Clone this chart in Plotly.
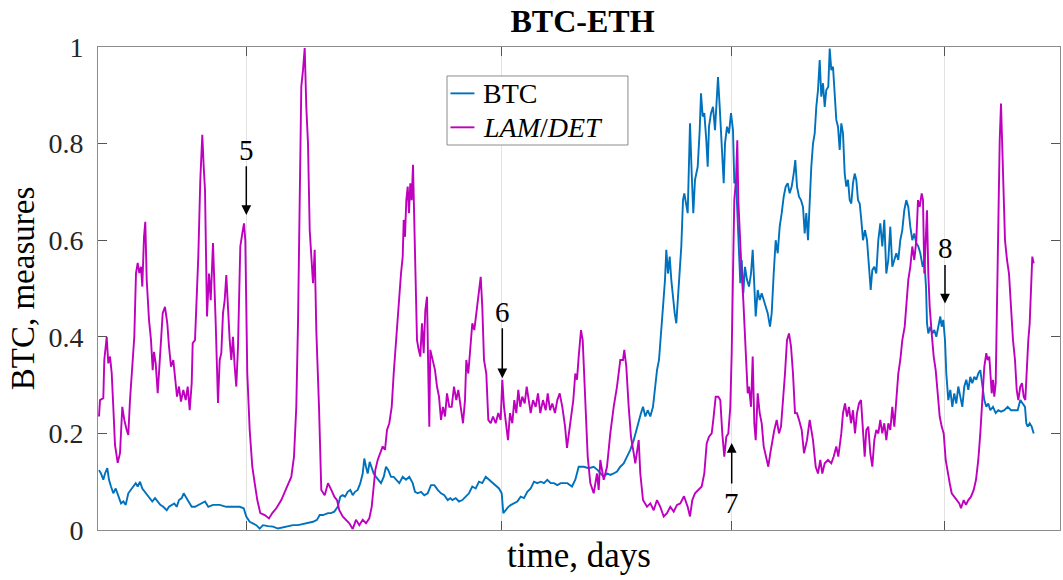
import plotly.graph_objects as go

# ---- data: time in days, normalised measures ----
btc_days = [
    1, 3, 5.3, 7, 9.3, 11, 13, 15.3, 17.7, 20.3,
    23, 25.3, 27.7, 30.3, 33, 35.3, 37.7, 39.7, 42, 44.3,
    47, 49.7, 52, 54.3, 57, 59.7, 62.3, 65.3, 68.7, 71,
    73.7, 76.3, 78.7, 81, 83.7, 85.7, 87.7, 90.3, 93.7, 97,
    100.3, 103.7, 107, 110.3, 115, 121.7, 128.3, 135, 141.7, 145.7,
    148.3, 151.7, 155, 158.3, 161.7, 165, 170, 175, 180, 185,
    190, 195, 200, 205, 210, 215, 219, 221.7, 225, 230,
    233, 236.3, 239.7, 242.3, 244.7, 247, 249.7, 252.3, 254.7, 257,
    259.7, 262.3, 264.7, 266.3, 268, 269.7, 271.7, 273.7, 275.7, 278,
    280.3, 283, 285.7, 288, 290.3, 293, 295.7, 298, 301.3, 304.7,
    308, 311.3, 314.7, 317, 319.7, 323, 326.3, 329.7, 333, 336.3,
    339.7, 343, 346.3, 349.7, 352.3, 354.3, 357.7, 361, 364.3, 367.7,
    371, 374.3, 377.7, 381, 384.3, 387.7, 391, 394.3, 397.7, 401,
    403.7, 405.3, 407.7, 410.3, 413, 416, 419.3, 422.7, 426, 429.3,
    432.7, 436, 439.3, 442.7, 446, 449.3, 452.7, 456, 459.3, 462.7,
    466, 469.3, 474, 477.3, 480.7, 485.7, 490.7, 495.7, 499.7, 502.3,
    505.7, 509, 512.3, 515.7, 519, 522.3, 525.7, 529, 532.3, 535.7,
    538.3, 540.7, 543, 545, 547.3, 549.7, 552.3, 555, 557, 559,
    561, 563, 565, 567, 568.3, 570, 571.7, 573.3, 575, 576.7,
    578.3, 580, 581.7, 583.3, 585, 586.3, 589.7, 592, 593.7, 595.3,
    597, 599.7, 601.7, 603, 604.7, 606.3, 608.3, 609.7, 611, 613,
    615, 617, 618.7, 620, 621.7, 623.7, 625.7, 627, 629, 631,
    633, 635, 636.3, 638, 639.7, 641, 642.3, 643.7, 645.3, 647,
    649, 651, 653, 654.7, 656.3, 657.7, 659.7, 661.7, 663.7, 665.7,
    667.7, 669.7, 672, 673.7, 675.7, 677.7, 679.7, 681.7, 683.7, 685.7,
    687.7, 689.7, 691.7, 693.7, 695.7, 697.3, 699, 701, 703, 705,
    706.7, 708.3, 710, 711.7, 713.3, 715, 716.7, 718.3, 720, 721.7,
    723.3, 725, 726.7, 728.3, 730.3, 731.7, 733.3, 735, 736.7, 738.3,
    740, 741.7, 743.3, 745, 746.7, 748.3, 750, 751.7, 753.3, 755,
    756.7, 758.3, 760, 761.7, 763.3, 765, 767, 769, 771, 772.7,
    774.3, 776.3, 778.3, 780.3, 782.3, 784.3, 786.3, 788.3, 790.3, 792.3,
    794.3, 796.3, 798.3, 800.3, 802.3, 804.3, 806.3, 808.3, 810.3, 812.3,
    814.3, 816.3, 818.3, 820.3, 822.3, 824.7, 826.3, 828, 829, 830.3,
    832.3, 834.3, 836.3, 838.3, 840.3, 842.3, 843.7, 845.3, 847, 848.3,
    850.3, 852.3, 854.3, 856.3, 858.3, 860.3, 862.3, 864.3, 866.3, 868.3,
    870.3, 872.3, 874.3, 876.3, 878.3, 880.3, 882.3, 884.3, 886.3, 888.3,
    890.3, 892.3, 895, 897.7, 900.3, 903, 906.3, 909.7, 913, 916.3,
    919.7, 922.3, 925, 927, 928.3, 929.7, 931.7, 933.7, 935.7,
]
btc_vals = [
    .124, .117, .104, .117, .128, .104, .090, .076, .086, .069,
    .055, .059, .052, .076, .083, .090, .097, .090, .100, .086,
    .079, .072, .066, .059, .066, .059, .052, .048, .041, .048,
    .052, .055, .048, .062, .066, .076, .069, .059, .048, .048,
    .052, .055, .059, .048, .052, .052, .048, .048, .048, .045,
    .028, .017, .014, .010, .003, .010, .008, .007, .003, .005,
    .008, .010, .010, .012, .014, .017, .021, .031, .031, .035,
    .035, .038, .048, .069, .072, .069, .079, .083, .072, .079,
    .083, .097, .117, .148, .131, .117, .141, .131, .117, .110,
    .104, .097, .110, .131, .124, .110, .110, .104, .097, .110,
    .104, .110, .097, .079, .076, .079, .072, .076, .093, .093,
    .083, .076, .072, .062, .066, .062, .066, .059, .062, .069,
    .076, .090, .086, .100, .097, .110, .104, .097, .090, .086,
    .076, .035, .041, .048, .052, .055, .059, .069, .066, .079,
    .086, .100, .097, .100, .097, .104, .097, .097, .093, .097,
    .097, .097, .090, .104, .131, .131, .128, .131, .124, .117,
    .110, .117, .114, .117, .121, .131, .138, .152, .166, .186,
    .207, .228, .242, .255, .235, .248, .235, .255, .290, .331,
    .352, .400, .462, .518, .580, .531, .566, .518, .476, .449,
    .428, .490, .531, .587, .683, .697, .656, .842, .738, .656,
    .725, .752, .828, .904, .856, .863, .807, .752, .835, .863,
    .876, .828, .890, .938, .876, .787, .718, .800, .835, .821,
    .863, .828, .718, .725, .635, .545, .511, .559, .490, .545,
    .518, .504, .531, .580, .518, .442, .497, .476, .490, .476,
    .462, .449, .421, .449, .531, .600, .573, .628, .656, .690,
    .711, .718, .697, .711, .738, .766, .711, .690, .683, .669,
    .614, .656, .600, .697, .752, .800, .821, .876, .911, .973,
    .897, .925, .876, .911, .918, .997, .952, .959, .897, .849,
    .835, .787, .842, .821, .738, .711, .725, .683, .676, .718,
    .738, .725, .683, .676, .642, .600, .621, .600, .545, .497,
    .538, .545, .531, .600, .635, .587, .642, .531, .559, .628,
    .545, .559, .573, .559, .600, .621, .662, .683, .669, .628,
    .600, .614, .594, .587, .573, .545, .559, .504, .428, .407,
    .421, .407, .414, .400, .421, .442, .421, .435, .393, .324,
    .269, .290, .255, .283, .262, .297, .276, .255, .297, .311,
    .290, .317, .304, .317, .311, .324, .331, .297, .269, .255,
    .262, .248, .255, .242, .248, .245, .248, .255, .248, .248,
    .248, .269, .262, .255, .221, .214, .221, .214, .200,
]

lam_days = [
    1, 2, 5.3, 6.3, 8.7, 10.3, 12, 13.7, 15.3, 17,
    19.7, 22, 24.3, 26.3, 28.7, 30.3, 32, 34.3, 36.3, 38,
    39.7, 41.3, 43, 44.3, 46, 47.3, 48.7, 51, 53, 54.7,
    56, 57.7, 59.7, 61, 63, 64.7, 67, 69.3, 71, 73,
    75.3, 77, 79, 81, 83, 85.3, 87.7, 89.7, 91.7, 93.7,
    94.7, 97, 98.7, 100.3, 102.3, 104.3, 105.7, 107, 109, 111,
    112.7, 115, 117.7, 120, 121.7, 123.3, 125, 126.7, 128.3, 130,
    131.7, 133.3, 135, 136.7, 138.3, 140, 142.3, 144.3, 146, 147.3,
    149.3, 151.7, 154.3, 156.7, 159.3, 162.3, 166.7, 171, 174.3, 178.3,
    183.3, 188.3, 193.3, 196, 198.3, 200, 201.7, 203.3, 205, 206.7,
    208.3, 210, 211.7, 214, 215, 216.7, 218.3, 221, 223.3, 226.7,
    230, 233.3, 236.3, 239, 241.3, 244.7, 248, 251.3, 254.7, 258,
    261.3, 264.7, 268, 271.3, 273.7, 275.7, 277.3, 279.7, 282.3, 284.7,
    287, 289, 291.3, 293.7, 295.7, 298, 299.7, 301.3, 303, 304.7,
    305.7, 307, 308.3, 309.7, 311, 312.3, 313.7, 315, 316.3, 317.7,
    319, 320.7, 322.3, 324, 325.7, 327.3, 329, 330.3, 331.3, 332.3,
    334.7, 337, 339, 341, 343, 345, 347, 349, 351.3, 353.7,
    356, 358.3, 360.3, 362.7, 365, 367, 368.3, 370.3, 372.3, 374.3,
    376.3, 378.3, 380.3, 382.7, 384.3, 386, 388.3, 390.3, 392.7, 395,
    397.7, 400.3, 402.7, 404.3, 406, 407.7, 410, 412, 414.3, 416.3,
    418.3, 420.3, 422.3, 424.3, 426.7, 428.7, 430.3, 432.7, 435, 437.7,
    440, 442.3, 445, 447.7, 449.7, 452, 454.3, 457, 459.3, 461.7,
    464.3, 467, 469, 472.3, 475.3, 477.3, 479, 480.7, 483, 484.7,
    486.3, 488.3, 489.7, 492.3, 495.7, 499, 500.7, 502.3, 505.7, 509,
    512.3, 515.7, 519, 522.3, 525, 526.3, 528.3, 530.7, 533, 535.7,
    537.3, 540.7, 542.3, 545, 549, 552.3, 555.7, 559, 562.3, 565.7,
    569, 572.3, 575.7, 579, 582.3, 586, 589.7, 592, 594.3, 597,
    600.3, 603.7, 606.3, 608.7, 611, 613.7, 615.3, 617.7, 620.3, 622.3,
    624.3, 626.3, 628.3, 630.3, 632.3, 633.7, 635, 636.3, 638, 639.3,
    640.3, 642, 643.7, 645.3, 647, 648.3, 649.7, 651, 653, 654.7,
    656.3, 657.7, 659.7, 661.7, 663.7, 665.7, 668, 670.3, 672.3, 674.3,
    676.3, 678.7, 681, 683, 685.3, 687, 689, 691, 693, 695,
    697, 699, 701, 703.7, 706, 709, 711.7, 713.3, 715, 717.7,
    720, 722.3, 724.3, 726.7, 730, 733.3, 735.7, 738.3, 740.3, 743.3,
    745, 747, 749, 751, 753, 755, 757, 759, 761, 763,
    765, 766.7, 768.3, 770.3, 772.3, 774.3, 776.3, 778.3, 780.3, 782.3,
    784.3, 786.3, 788.3, 790.3, 792.3, 794.3, 796.3, 798.3, 800.3, 802.3,
    804.3, 806.7, 808.3, 810.3, 812.3, 814.3, 816.3, 818.3, 820, 821.7,
    823.7, 825, 826.3, 828, 829, 830.3, 831.7, 833.7, 835.7, 837.7,
    839.7, 841.7, 843.7, 845.7, 847.7, 849.7, 851.7, 853.7, 856.3, 859,
    861.3, 863, 865.7, 868, 870.3, 873, 875.7, 878, 880.3, 882.3,
    884.3, 886.3, 888.3, 889.7, 891.3, 892.3, 893.7, 895, 896.3, 897.7,
    899, 900.3, 901.7, 903, 904, 905.3, 907, 909, 911, 913,
    915, 917, 918.7, 920.3, 922.3, 924, 925.7, 927.3, 929, 930.3,
    931.7, 933, 934.3, 935.7,
]
lam_vals = [
    .235, .269, .273, .352, .400, .345, .359, .325, .255, .176,
    .139, .159, .255, .228, .207, .197, .269, .352, .400, .532,
    .553, .532, .545, .504, .607, .638, .518, .435, .393, .331,
    .369, .345, .283, .325, .408, .449, .462, .428, .380, .338,
    .352, .317, .276, .297, .266, .290, .269, .297, .248, .304,
    .387, .393, .490, .566, .725, .818, .752, .704, .442, .531,
    .476, .594, .428, .263, .352, .366, .449, .476, .528, .449,
    .393, .352, .400, .338, .297, .380, .587, .614, .635, .600,
    .324, .207, .131, .097, .062, .035, .031, .024, .035, .045,
    .062, .086, .110, .152, .255, .428, .669, .918, .952, .998,
    .876, .800, .621, .531, .511, .580, .414, .255, .083, .072,
    .097, .083, .069, .062, .041, .028, .021, .014, .002, .021,
    .010, .021, .014, .024, .048, .083, .124, .145, .159, .173,
    .166, .207, .221, .255, .324, .393, .428, .490, .531, .566,
    .642, .607, .683, .711, .656, .718, .683, .756, .628, .483,
    .393, .373, .359, .428, .366, .455, .483, .324, .214, .373,
    .352, .331, .297, .276, .228, .255, .235, .283, .255, .255,
    .297, .269, .290, .255, .221, .269, .352, .324, .373, .428,
    .414, .449, .476, .524, .462, .352, .324, .228, .221, .235,
    .221, .242, .228, .311, .255, .221, .186, .242, .221, .269,
    .242, .290, .255, .276, .262, .297, .276, .242, .269, .255,
    .283, .242, .269, .248, .283, .248, .262, .242, .269, .283,
    .255, .215, .170, .221, .269, .324, .311, .359, .414, .393,
    .324, .235, .152, .097, .076, .117, .083, .145, .104, .131,
    .200, .255, .297, .352, .352, .373, .338, .255, .193, .159,
    .138, .186, .117, .062, .048, .055, .041, .062, .048, .028,
    .035, .048, .038, .052, .055, .070, .048, .028, .062, .076,
    .083, .090, .117, .179, .193, .200, .228, .276, .276, .269,
    .200, .152, .193, .200, .255, .366, .531, .683, .725, .807,
    .683, .587, .531, .476, .393, .352, .283, .297, .255, .359,
    .221, .186, .283, .242, .221, .173, .152, .131, .159, .186,
    .207, .228, .200, .214, .269, .324, .393, .407, .380, .324,
    .242, .242, .228, .207, .159, .186, .228, .207, .186, .131,
    .117, .145, .117, .138, .145, .138, .152, .173, .152, .200,
    .242, .262, .235, .255, .221, .248, .200, .242, .262, .269,
    .214, .152, .207, .214, .159, .131, .186, .207, .200, .228,
    .200, .221, .186, .221, .207, .255, .214, .276, .324, .352,
    .393, .421, .469, .518, .545, .587, .559, .600, .683, .669,
    .697, .683, .531, .628, .662, .531, .462, .407, .359, .331,
    .283, .235, .214, .200, .145, .117, .097, .076, .069, .062,
    .055, .045, .062, .052, .062, .069, .083, .104, .145, .200,
    .283, .338, .366, .352, .359, .324, .283, .311, .276, .304,
    .476, .669, .807, .883, .807, .697, .600, .559, .531, .462,
    .393, .352, .290, .269, .297, .304, .276, .269, .352, .393,
    .428, .504, .566, .552,
]

# marked events: label, day, arrow tip, arrow tail, label position
event_labels = ["5", "6", "7", "8"]
event_days = [148.3, 404.3, 633.7, 847.0]
event_tip = [0.652, 0.314, 0.180, 0.469]
event_tail = [0.756, 0.421, 0.093, 0.552]
event_text_y = [0.787, 0.452, 0.056, 0.583]

grid_days = [148.3, 403.3, 633.7, 846.3]
y_ticks = [0, 0.2, 0.4, 0.6, 0.8, 1]
y_tick_text = ["0", "0.2", "0.4", "0.6", "0.8", "1"]

series_names = ["BTC", "<i>LAM</i>/<i>DET</i>"]

SERIF = "Liberation Serif, Times New Roman, serif"
BLUE = "#0072BD"
MAGENTA = "#BF00BF"
colors = [BLUE, MAGENTA]

fig = go.Figure()
fig.add_trace(go.Scatter(x=btc_days, y=btc_vals, mode="lines",
                         name=series_names[0],
                         line=dict(color=BLUE, width=1.9)))
fig.add_trace(go.Scatter(x=lam_days, y=lam_vals, mode="lines",
                         name=series_names[1],
                         line=dict(color=MAGENTA, width=1.9)))

annotations = []
for lab, d, tip, tail, ty in zip(event_labels, event_days, event_tip,
                                 event_tail, event_text_y):
    annotations.append(dict(
        x=d, y=tip, ax=d, ay=tail, xref="x", yref="y", axref="x", ayref="y",
        text="", showarrow=True, arrowhead=2, arrowsize=1.3, arrowwidth=1.5,
        arrowcolor="black"))
    annotations.append(dict(
        x=d, y=ty, xref="x", yref="y", text=lab, showarrow=False,
        font=dict(family=SERIF, size=29, color="black"),
        xanchor="center", yanchor="middle"))

# boxed key in the upper middle of the axes (paper coordinates)
key_box = dict(x0=0.3628, x1=0.5509, y0=0.7971, y1=0.94)
key_line_x = (0.3664, 0.3913)
key_text_x = 0.3985
key_rows_y = [0.9040, 0.8337]

shapes = [dict(type="rect", xref="paper", yref="paper", layer="above",
               fillcolor="white", line=dict(color="#8c8c8c", width=1),
               **key_box)]
for name, col, ry in zip(series_names, colors, key_rows_y):
    shapes.append(dict(type="line", xref="paper", yref="paper", layer="above",
                       x0=key_line_x[0], x1=key_line_x[1], y0=ry, y1=ry,
                       line=dict(color=col, width=1.9)))
    annotations.append(dict(x=key_text_x, y=ry, xref="paper", yref="paper",
                            text=name, showarrow=False, xanchor="left",
                            yanchor="middle",
                            font=dict(family=SERIF, size=28, color="black")))

fig.update_layout(
    width=1063, height=580,
    margin=dict(l=98, r=3, t=47, b=50),
    paper_bgcolor="white", plot_bgcolor="white",
    font=dict(family=SERIF, color="#262626"),
    title=dict(text="<b>BTC-ETH</b>", x=0.548, xanchor="center",
               y=0.965, yanchor="middle",
               font=dict(family=SERIF, size=32, color="black")),
    showlegend=False,
    annotations=annotations,
    shapes=shapes,
)

fig.update_xaxes(
    range=[0, 962], tickvals=grid_days, showticklabels=False,
    showgrid=True, gridcolor="#e3e3e3", gridwidth=1,
    ticks="inside", ticklen=9, tickcolor="#555", tickwidth=1,
    showline=True, linecolor="#8c8c8c", linewidth=1, mirror="ticks",
    zeroline=False,
    title=dict(text="time, days", standoff=12,
               font=dict(family=SERIF, size=35, color="black")),
)
fig.update_yaxes(
    range=[0, 1], tickvals=y_ticks, ticktext=y_tick_text,
    showgrid=False, zeroline=False,
    ticks="inside", ticklen=9, tickcolor="#555", tickwidth=1,
    showline=True, linecolor="#8c8c8c", linewidth=1, mirror="ticks",
    tickfont=dict(family=SERIF, size=28, color="#262626"),
    ticklabelstandoff=8,
    title=dict(text="BTC, measures", standoff=3,
               font=dict(family=SERIF, size=33, color="black")),
)

fig.write_html("out.html")
